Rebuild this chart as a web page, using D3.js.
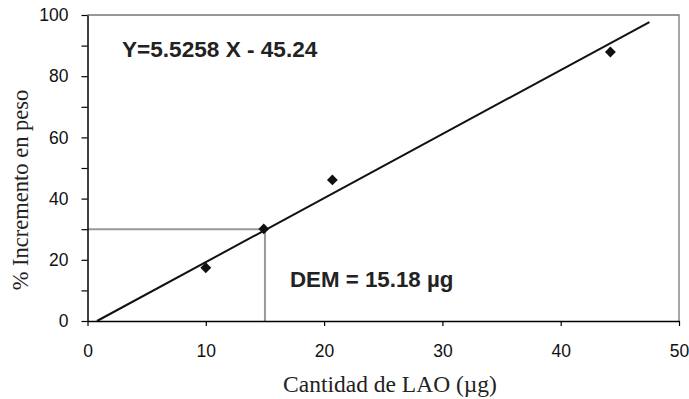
<!DOCTYPE html>
<html><head><meta charset="utf-8">
<script src="https://cdn.jsdelivr.net/npm/d3@7"></script>
<style>body{margin:0;background:#fff}svg{display:block}</style>
</head><body>
<script>
// Data
const xValues = [10, 14.9, 20.7, 44.2];
const yValues = [17.4, 30.1, 46.1, 87.9];
const fitX = [0.8, 47.5];
const fitY = [0, 97.7];
const demX = 15;
const demY = 30;
const xTicks = [0, 10, 20, 30, 40, 50];
const yTicks = [0, 10, 20, 30, 40, 50, 60, 70, 80, 90, 100];
const yLabels = [0, 20, 40, 60, 80, 100];
const equationText = "Y=5.5258 X - 45.24";
const demText = "DEM = 15.18 µg";
const xTitle = "Cantidad de LAO (µg)";
const yTitle = "% Incremento en peso";

const W = 689, H = 399;
const L = 87.5, R = 679, T = 15, B = 321;
const svg = d3.select("body").append("svg").attr("width", W).attr("height", H);
const x = d3.scaleLinear().domain([0, 50]).range([L, R]);
const y = d3.scaleLinear().domain([0, 100]).range([B, T]);

// frame top/right
svg.append("path").attr("d", `M${L},${T}H${R}V${B}`).attr("fill", "none").attr("stroke", "#777").attr("stroke-width", 1.3);

// gray guide lines
svg.append("path")
  .attr("d", `M${x(0)},${y(demY)}H${x(demX)}V${y(0)}`)
  .attr("fill", "none").attr("stroke", "#999").attr("stroke-width", 2);

// axes
const xAxis = d3.axisBottom(x).tickValues(xTicks).tickSize(5).tickSizeOuter(0).tickPadding(19);
const gx = svg.append("g").attr("transform", `translate(0,${B})`).call(xAxis);
const yAxis = d3.axisLeft(y).tickValues(yTicks).tickSize(6).tickSizeOuter(0).tickPadding(13)
  .tickFormat(d => yLabels.includes(d) ? d : "");
const gy = svg.append("g").attr("transform", `translate(${L},0)`).call(yAxis);
[gx, gy].forEach(g => {
  g.select(".domain").attr("stroke", "#000").attr("stroke-width", 1.5);
  g.selectAll(".tick line").attr("stroke", "#000").attr("stroke-width", 1.2);
  g.selectAll(".tick text").attr("font-family", "Liberation Sans, Arial, sans-serif").attr("font-size", 17.5).attr("fill", "#111");
});

// fit line
svg.append("line")
  .attr("x1", x(fitX[0])).attr("y1", y(fitY[0]))
  .attr("x2", x(fitX[1])).attr("y2", y(fitY[1]))
  .attr("stroke", "#111").attr("stroke-width", 2);

// points
const pts = xValues.map((v, i) => [v, yValues[i]]);
svg.selectAll(".pt").data(pts).enter().append("path")
  .attr("class", "pt")
  .attr("d", d3.symbol().type(d3.symbolDiamond2).size(75))
  .attr("transform", d => `translate(${x(d[0])},${y(d[1])})`)
  .attr("fill", "#111");

// annotations
svg.append("text").attr("x", 122).attr("y", 56.5).text(equationText)
  .attr("font-family", "Liberation Sans, Arial, sans-serif").attr("font-weight", "bold").attr("font-size", 22.6).attr("fill", "#222");
svg.append("text").attr("x", 290).attr("y", 286.5).text(demText)
  .attr("font-family", "Liberation Sans, Arial, sans-serif").attr("font-weight", "bold").attr("font-size", 22.3).attr("fill", "#222");

// titles
svg.append("text").attr("x", 390).attr("y", 391.5).attr("text-anchor", "middle").text(xTitle)
  .attr("font-family", "Liberation Serif, Times New Roman, serif").attr("font-size", 23.5).attr("fill", "#222");
svg.append("text").attr("transform", "translate(28,190) rotate(-90)").attr("text-anchor", "middle").text(yTitle)
  .attr("font-family", "Liberation Serif, Times New Roman, serif").attr("font-size", 22.5).attr("fill", "#222");
</script>
</body></html>
